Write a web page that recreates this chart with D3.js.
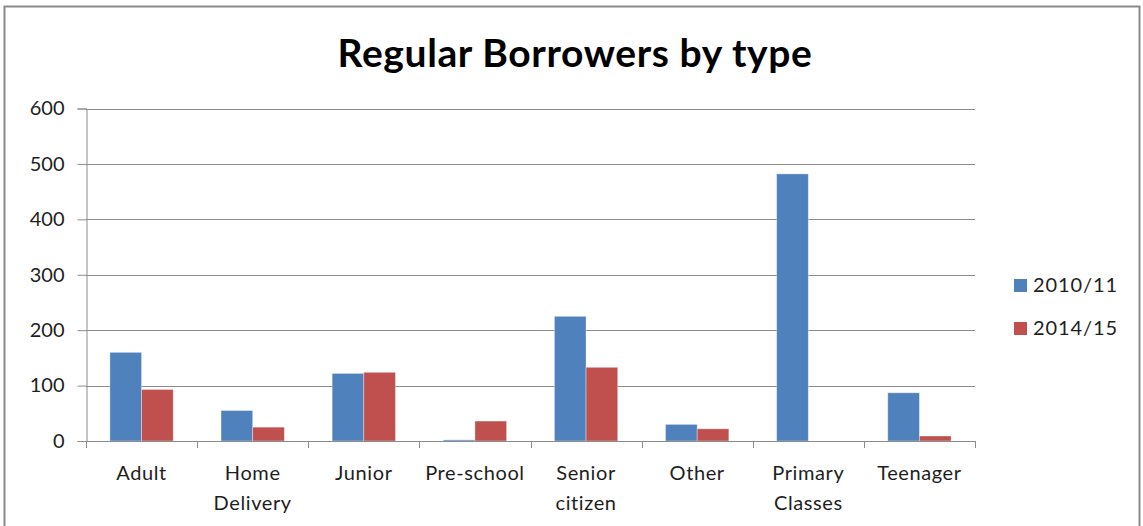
<!DOCTYPE html>
<html>
<head>
<meta charset="utf-8">
<script src="https://cdn.jsdelivr.net/npm/d3@7"></script>
<style>
  html, body { margin: 0; padding: 0; background: #fff; }
  svg { display: block; }
  text { font-family: Lato, "Open Sans", sans-serif; fill: #1e1e1e; }
</style>
</head>
<body>
<svg id="chart" width="1143" height="526"></svg>
<script>
// Borrower categories (line breaks mark wrapped labels)
const categories = ["Adult", "Home\nDelivery", "Junior", "Pre-school", "Senior\ncitizen", "Other", "Primary\nClasses", "Teenager"];
const seriesNames = ["2010/11", "2014/15"];
const values2010 = [160, 55, 122, 2, 225, 30, 482, 87];
const values2014 = [93, 25, 124, 36, 133, 22, 0, 9];
const yTicks = [0, 100, 200, 300, 400, 500, 600];
const colors = ["#4F81BD", "#C0504D"];

const svg = d3.select("#chart");
const plot = { left: 86, right: 975, top: 108.5, bottom: 441 };

// Outer chart frame
svg.append("rect")
  .attr("x", 4.5).attr("y", 6.5)
  .attr("width", 1135).attr("height", 530)
  .attr("fill", "#fff").attr("stroke", "#8a8a8a").attr("stroke-width", 2);

// Title
svg.append("text")
  .attr("x", 575).attr("y", 67)
  .attr("text-anchor", "middle")
  .style("font-size", "39px").style("font-weight", "bold").style("fill", "#000")
  .style("letter-spacing", "0.6px")
  .text("Regular Borrowers by type");

const y = d3.scaleLinear().domain([0, 600]).range([plot.bottom, plot.top]);
const x0 = d3.scaleBand().domain(categories).range([plot.left, plot.right]).paddingInner(0.43).paddingOuter(0.215);
const x1 = d3.scaleBand().domain(seriesNames).range([0, x0.bandwidth()]);
const xEdges = d3.scaleBand().domain(categories).range([plot.left, plot.right]);

// Horizontal gridlines
svg.append("g").selectAll("line").data(yTicks.filter(d => d > 0)).join("line")
  .attr("x1", plot.left).attr("x2", plot.right)
  .attr("y1", d => Math.round(y(d)) + 0.5).attr("y2", d => Math.round(y(d)) + 0.5)
  .attr("stroke", "#8c8c8c").attr("stroke-width", 1);

// Y axis
const yAxis = d3.axisLeft(y).tickValues(yTicks).tickSize(9).tickPadding(13);
const gy = svg.append("g").attr("transform", `translate(${plot.left + 0.5},0)`).call(yAxis);
gy.select(".domain").attr("stroke", "#8c8c8c");
gy.selectAll(".tick line").attr("stroke", "#8c8c8c");
gy.selectAll(".tick text").style("font-size", "20px").style("font-family", "Lato, sans-serif").attr("fill", "#1e1e1e");

// Bars
const data = categories.map((c, i) => ({ cat: c, vals: [values2010[i], values2014[i]] }));
const groups = svg.append("g").selectAll("g").data(data).join("g")
  .attr("transform", d => `translate(${x0(d.cat)},0)`);
groups.selectAll("rect").data(d => d.vals.map((v, j) => ({ v, j }))).join("rect")
  .attr("x", d => x1(seriesNames[d.j]))
  .attr("width", x1.bandwidth())
  .attr("y", d => y(d.v))
  .attr("height", d => plot.bottom - y(d.v))
  .attr("fill", d => colors[d.j])
  .attr("stroke", "rgba(255,255,255,0.45)").attr("stroke-width", 0.8);

// X axis baseline and category boundary ticks
const gx = svg.append("g");
gx.append("line")
  .attr("x1", plot.left).attr("x2", plot.right)
  .attr("y1", plot.bottom + 0.5).attr("y2", plot.bottom + 0.5)
  .attr("stroke", "#8c8c8c");
const edges = categories.map(c => xEdges(c)).concat([plot.right]);
gx.selectAll("line.edge").data(edges).join("line").attr("class", "edge")
  .attr("x1", d => Math.round(d) + 0.5).attr("x2", d => Math.round(d) + 0.5)
  .attr("y1", plot.bottom).attr("y2", plot.bottom + 7)
  .attr("stroke", "#8c8c8c");

// Category labels
const labels = gx.selectAll("text").data(categories).join("text")
  .attr("x", d => xEdges(d) + xEdges.bandwidth() / 2)
  .attr("y", 480)
  .attr("text-anchor", "middle")
  .style("font-size", "20px")
  .style("letter-spacing", "0.6px");
labels.selectAll("tspan").data(d => d.split("\n")).join("tspan")
  .attr("x", function () { return d3.select(this.parentNode).attr("x"); })
  .attr("dy", (d, i) => i === 0 ? 0 : 29.5)
  .text(d => d);

// Legend
const legend = svg.append("g").selectAll("g").data(seriesNames).join("g")
  .attr("transform", (d, i) => `translate(1014,${279 + i * 43})`);
legend.append("rect").attr("width", 13).attr("height", 13).attr("fill", (d, i) => colors[i]);
legend.append("text").attr("x", 19).attr("y", 13).style("font-size", "20px")
  .style("letter-spacing", "0.9px").text(d => d);
</script>
</body>
</html>
